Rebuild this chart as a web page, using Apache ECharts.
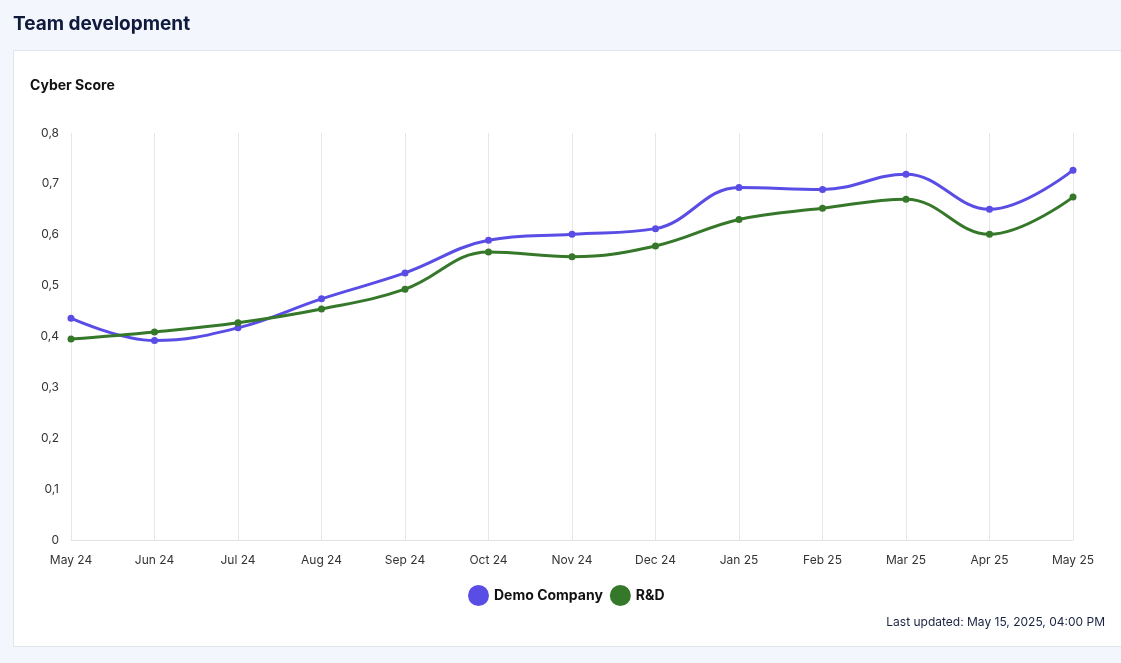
<!DOCTYPE html>
<html>
<head>
<meta charset="utf-8">
<script src="https://cdn.jsdelivr.net/npm/echarts@6/dist/echarts.min.js"></script>
<style>
  html, body { margin: 0; padding: 0; width: 1121px; height: 663px; background: #f3f7fd; overflow: hidden; }
  #card { position: absolute; left: 13px; top: 50px; width: 1120px; height: 595px; background: #ffffff; border: 1px solid #e1e6ee; }
  #chart { position: absolute; left: 0; top: 0; width: 1121px; height: 663px; }
</style>
</head>
<body>
<div id="card"></div>
<div id="chart"></div>
<script>
const categories = ['May 24','Jun 24','Jul 24','Aug 24','Sep 24','Oct 24','Nov 24','Dec 24','Jan 25','Feb 25','Mar 25','Apr 25','May 25'];
const demoCompany = [0.436, 0.392, 0.417, 0.474, 0.525, 0.589, 0.601, 0.612, 0.693, 0.689, 0.719, 0.650, 0.727];
const rnd = [0.395, 0.409, 0.427, 0.454, 0.493, 0.566, 0.557, 0.578, 0.630, 0.652, 0.670, 0.601, 0.674];
const seriesNames = ['Demo Company', 'R&D'];
const yTicks = { min: 0, max: 0.8, interval: 0.1 };

const chart = echarts.init(document.getElementById('chart'), null, { renderer: 'canvas' });
const fontFamily = 'Inter, "Noto Sans", sans-serif';
chart.setOption({
  animation: false,
  title: [
    { text: 'Team development', left: 8, top: 10, textStyle: { fontFamily, fontSize: 19, fontWeight: 'bold', color: '#0f1a3d' } },
    { text: 'Cyber Score', left: 25, top: 74, textStyle: { fontFamily, fontSize: 14, fontWeight: 'bold', color: '#111111' } },
    { text: 'Last updated: May 15, 2025, 04:00 PM', right: 11, top: 611, textStyle: { fontFamily, fontSize: 12, fontWeight: 'normal', color: '#1a2340' } }
  ],
  legend: {
    data: seriesNames,
    left: 463,
    top: 580,
    icon: 'circle',
    itemWidth: 21,
    itemHeight: 21,
    itemGap: 7,
    textStyle: { fontFamily, fontSize: 14, fontWeight: 'bold', color: '#111111', padding: [0, 0, 0, 0] }
  },
  grid: { left: 71, right: 48, top: 133, bottom: 123, containLabel: false },
  xAxis: {
    type: 'category',
    data: categories,
    boundaryGap: false,
    axisLine: { show: true, lineStyle: { color: '#e2e2e2', width: 1 } },
    axisTick: { show: false },
    axisLabel: { fontFamily, fontSize: 12, color: '#333333', margin: 14 },
    splitLine: { show: true, lineStyle: { color: '#e6e6e6', width: 1 } }
  },
  yAxis: {
    type: 'value',
    min: yTicks.min,
    max: yTicks.max,
    interval: yTicks.interval,
    axisLine: { show: false },
    axisTick: { show: false },
    splitLine: { show: false },
    axisLabel: {
      fontFamily, fontSize: 12, color: '#333333', margin: 12,
      formatter: v => v === 0 ? '0' : v.toFixed(1).replace('.', ',')
    }
  },
  series: [
    {
      name: seriesNames[0], type: 'line', data: demoCompany, smooth: 0.4,
      symbol: 'circle', symbolSize: 7,
      itemStyle: { color: '#5a4de6' },
      lineStyle: { color: '#5a4de6', width: 3 }
    },
    {
      name: seriesNames[1], type: 'line', data: rnd, smooth: 0.4,
      symbol: 'circle', symbolSize: 7,
      itemStyle: { color: '#35782a' },
      lineStyle: { color: '#35782a', width: 3 }
    }
  ]
});
</script>
</body>
</html>
